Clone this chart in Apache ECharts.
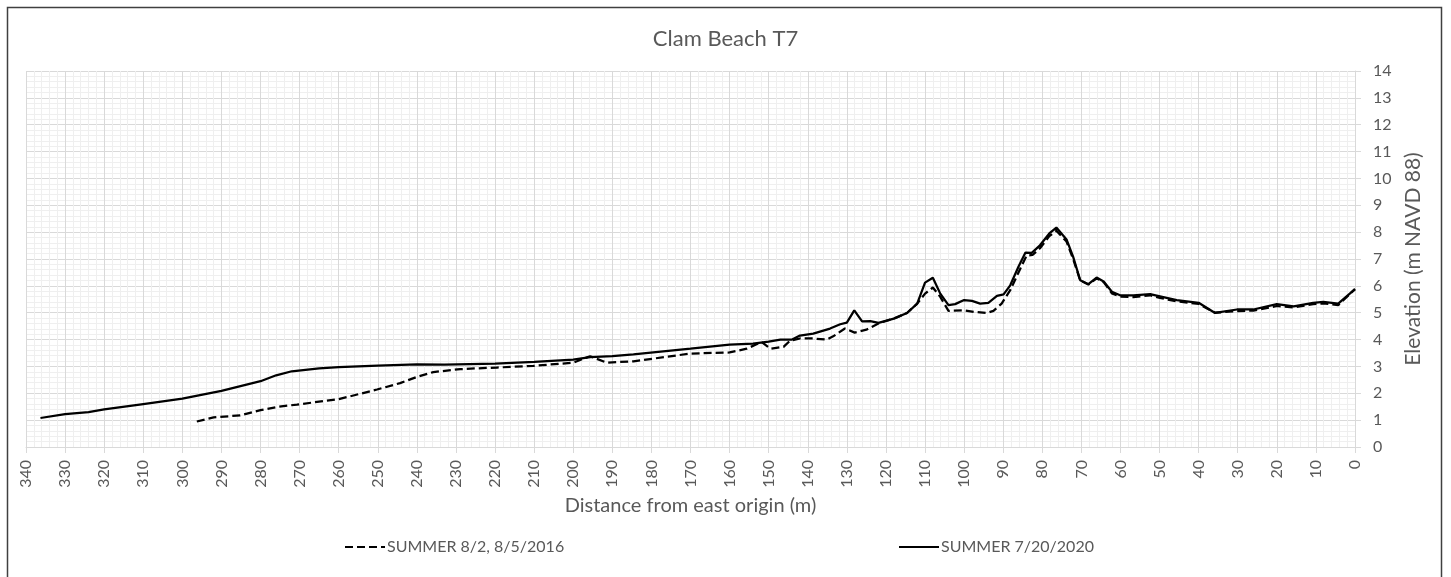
<!DOCTYPE html>
<html>
<head>
<meta charset="utf-8">
<script src="https://cdn.jsdelivr.net/npm/echarts@6/dist/echarts.min.js"></script>
<style>
  html, body { margin: 0; padding: 0; background: #fff; }
  #chart { width: 1451px; height: 577px; }
</style>
</head>
<body>
<div id="chart"></div>
<script>
// Profile: distance (m from east origin) and elevation (m NAVD 88)
var dist2016 = [296.3, 292, 285.2, 280, 275.8, 270.7, 260, 250.2, 244.3, 240, 235.8, 228.9, 219.5, 210.2, 200,
  195.7, 191.4, 184.6, 170, 160, 155.6, 151.8, 149.6, 146.2, 144.6, 142, 138.6, 135.2, 133.5, 130.5, 128, 125,
  121.6, 118, 114.6, 112, 110, 108, 106.1, 104, 100, 97.4, 94.2, 92.5, 90.4, 88.2, 85.6, 84, 82.5, 80.6, 78.2,
  76.4, 73.8, 72.1, 70.3, 68.2, 66.1, 64.2, 62.2, 60.1, 56.7, 52.4, 49.9, 45.6, 40, 35.8, 30.2, 26, 20, 15.7,
  10.7, 8.1, 4.3, 0];
var elev2016 = [0.95, 1.10, 1.18, 1.37, 1.49, 1.58, 1.78, 2.14, 2.38, 2.61, 2.79, 2.90, 2.96, 3.02, 3.14,
  3.38, 3.14, 3.19, 3.48, 3.52, 3.66, 3.91, 3.66, 3.73, 3.95, 4.04, 4.04, 4.00, 4.12, 4.41, 4.26, 4.37,
  4.62, 4.78, 4.99, 5.34, 5.71, 5.94, 5.59, 5.07, 5.09, 5.03, 4.99, 5.07, 5.34, 5.84, 6.65, 7.13, 7.15, 7.40, 7.85,
  8.05, 7.65, 7.00, 6.20, 6.05, 6.28, 6.12, 5.72, 5.60, 5.58, 5.65, 5.55, 5.42, 5.33, 5.00, 5.06, 5.08, 5.25, 5.20,
  5.32, 5.35, 5.28, 5.88];

var dist2020 = [336.3, 330, 324, 320, 310, 300, 290, 280, 276, 272, 265, 260, 250, 240, 233, 220, 210, 200,
  195.7, 190, 184.6, 170, 160, 154, 150, 147, 144, 142, 138.6, 134.3, 131.7, 130, 128.1, 126.1, 124, 121.9,
  118, 114.6, 112, 110, 108, 106.1, 104, 102.3, 100, 98, 95.9, 93.8, 91.6, 89.9, 88.2, 86.1, 84.3, 82.7, 80.6,
  78.2, 76.4, 73.8, 72.1, 70.3, 68.2, 66.1, 64.2, 62.2, 60.1, 56.7, 52.4, 49.9, 45.6, 40, 35.8, 30.2, 26, 20,
  15.7, 10.7, 8.1, 4.3, 0];
var elev2020 = [1.08, 1.22, 1.30, 1.40, 1.60, 1.80, 2.09, 2.45, 2.67, 2.82, 2.93, 2.97, 3.03, 3.08, 3.07, 3.10, 3.17, 3.25,
  3.35, 3.38, 3.45, 3.66, 3.81, 3.85, 3.92, 4.00, 4.00, 4.15, 4.22, 4.41, 4.57, 4.63, 5.09, 4.68, 4.69, 4.62,
  4.78, 4.99, 5.34, 6.12, 6.30, 5.71, 5.28, 5.32, 5.47, 5.44, 5.34, 5.37, 5.63, 5.68, 6.02, 6.71, 7.24, 7.23, 7.51,
  7.95, 8.17, 7.73, 7.08, 6.21, 6.06, 6.31, 6.15, 5.78, 5.65, 5.65, 5.69, 5.61, 5.47, 5.37, 4.99, 5.12, 5.12, 5.32,
  5.24, 5.37, 5.40, 5.34, 5.88];

var seriesNames = ['SUMMER 8/2, 8/5/2016', 'SUMMER 7/20/2020'];

function pairs(xs, ys) {
  var out = [];
  for (var i = 0; i < xs.length; i++) out.push([xs[i], ys[i]]);
  return out;
}

var FONT = 'Lato';
var TXT = '#595959';
var chart = echarts.init(document.getElementById('chart'));

// legend shows only the line sample, no marker
var legendBase = {
  itemWidth: 40, itemHeight: 12, itemGap: 0,
  itemStyle: { opacity: 0 },
  textStyle: { fontFamily: FONT, fontSize: 16, color: TXT, padding: [0, 0, 0, -3] }
};

var option = {
  animation: false,
  backgroundColor: '#fff',
  textStyle: { fontFamily: FONT },
  title: {
    text: 'Clam Beach T7',
    left: 'center',
    top: 23,
    textStyle: { fontFamily: FONT, fontSize: 22, fontWeight: 'normal', color: TXT }
  },
  graphic: [{
    type: 'rect',
    shape: { x: 7.5, y: 7.5, width: 1434, height: 600 },
    style: { fill: 'none', stroke: '#404040', lineWidth: 1.5 },
    silent: true
  }],
  legend: [
    Object.assign({ data: [seriesNames[0]], left: 339, top: 534 }, legendBase),
    Object.assign({ data: [seriesNames[1]], left: 893, top: 534 }, legendBase)
  ],
  grid: { left: 26, right: 96, top: 71, bottom: 130, containLabel: false },
  xAxis: {
    type: 'value',
    inverse: true,
    min: 0, max: 340, interval: 10,
    name: 'Distance from east origin (m)',
    nameLocation: 'middle',
    nameGap: 44,
    nameTextStyle: { fontFamily: FONT, fontSize: 20, color: TXT },
    axisLine: { show: true, lineStyle: { color: '#d9d9d9' } },
    axisTick: { show: true, length: 6, lineStyle: { color: '#d9d9d9' } },
    axisLabel: { rotate: 90, margin: 13, fontSize: 16, color: TXT, fontFamily: FONT },
    splitLine: { show: true, lineStyle: { color: '#d9d9d9' } },
    minorTick: { show: false, splitNumber: 5 },
    minorSplitLine: { show: true, lineStyle: { color: '#efefef' } }
  },
  yAxis: {
    type: 'value',
    position: 'right',
    min: 0, max: 14, interval: 1,
    name: 'Elevation (m NAVD 88)',
    nameLocation: 'middle',
    nameRotate: 90,
    nameGap: 44,
    nameTextStyle: { fontFamily: FONT, fontSize: 21, color: TXT },
    axisLine: { show: true, lineStyle: { color: '#d9d9d9' } },
    axisTick: { show: true, length: 6, lineStyle: { color: '#d9d9d9' } },
    axisLabel: { margin: 18, fontSize: 16, color: TXT, fontFamily: FONT },
    splitLine: { show: true, lineStyle: { color: '#d9d9d9' } },
    minorTick: { show: false, splitNumber: 5 },
    minorSplitLine: { show: true, lineStyle: { color: '#efefef' } }
  },
  series: [{
    name: seriesNames[0],
    type: 'line',
    showSymbol: false,
    symbol: 'none',
    lineStyle: { color: '#000', width: 2.25, type: [8, 4] },
    itemStyle: { color: '#000' },
    data: pairs(dist2016, elev2016)
  }, {
    name: seriesNames[1],
    type: 'line',
    showSymbol: false,
    symbol: 'none',
    lineStyle: { color: '#000', width: 2.25 },
    itemStyle: { color: '#000' },
    data: pairs(dist2020, elev2020)
  }]
};

chart.setOption(option);
</script>
</body>
</html>
